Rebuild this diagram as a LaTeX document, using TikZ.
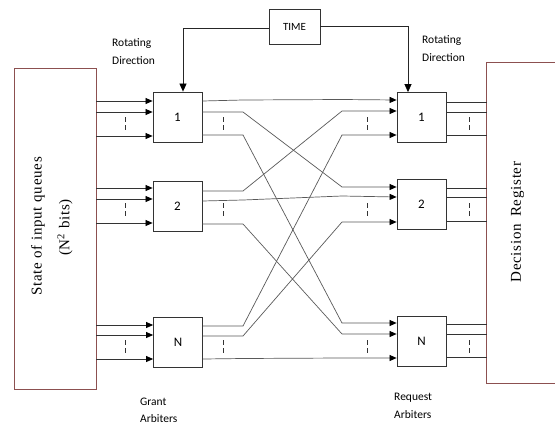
\documentclass[tikz,border=0pt]{standalone}
\usepackage{fontspec}
\setmainfont{Carlito}
\newfontfamily\regserif{Liberation Serif}[LetterSpace=5]
\usetikzlibrary{arrows.meta}
\begin{document}
\begin{tikzpicture}[x=1pt,y=-1pt,
 arb/.style={draw=black!80,line width=0.8pt,minimum width=49pt,minimum height=50pt,inner sep=0pt,font=\fontsize{13}{15}\selectfont},
 regline/.style={draw={rgb,255:red,140;green,80;blue,80},line width=0.7pt},
 wire/.style={draw=black!80,line width=0.7pt},
 inwire/.style={wire,-{Triangle[length=7pt,width=6pt,color=black]}},
 cross/.style={draw=black!65,line width=0.7pt,-{Triangle[length=7pt,width=6pt,color=black]}},
 timearrow/.style={draw=black!85,line width=0.7pt,-{Triangle[length=8pt,width=7pt,color=black]}},
 dots/.style={draw=black!80,line width=0.6pt,dash pattern=on 5pt off 3pt},
 lbl/.style={align=left,font=\fontsize{11.5}{18}\selectfont,inner sep=0pt},
 vtext/.style={rotate=90,inner sep=0pt,font=\regserif\fontsize{15}{17}\selectfont}
]
\useasboundingbox (0,0) rectangle (555,426);

% register boxes
\node[regline,minimum width=82pt,minimum height=321pt,inner sep=0pt] (inq) at (55,228.5) {};
\node[inner sep=0pt,minimum width=69pt,minimum height=320pt] (dec) at (521.5,223) {};
\draw[regline] (dec.north east) -- (dec.north west) -- (dec.south west) -- (dec.south east);
\node[vtext] (inqa) at (38,226.5) {State of input queues};
\node[vtext] (inqb) at (65,227.5) {(N\textsuperscript{2} bits)};
\node[vtext] (dect) at (517.5,222) {Decision\, Register};

% arbiters
\node[arb] (G1) at (177.5,117) {1};
\node[arb] (G2) at (177.5,206.5) {2};
\node[arb] (GN) at (178,342.5) {N};
\node[arb] (R1) at (421.5,117.5) {1};
\node[arb] (R2) at (421.5,204.5) {2};
\node[arb] (RN) at (421.5,341.5) {N};

% TIME
\node[draw=black!80,line width=0.8pt,minimum width=51pt,minimum height=35pt,inner sep=0pt,font=\fontsize{11}{12}\selectfont] (T) at (294.5,26.5) {TIME};
\draw[timearrow] (T.west |- 0,28) -| ([xshift=5.5pt]G1.north);
\draw[timearrow] (T.east |- 0,26) -| ([xshift=-13.5pt]R1.north);

% labels
\node[lbl,anchor=west] (rl) at (112,51.5) {Rotating\\Direction};
\node[lbl,anchor=west] (rr) at (422,49) {Rotating\\Direction};
\node[lbl,anchor=west,font=\fontsize{11.5}{17}\selectfont] (ga) at (140,410.5) {Grant\\Arbiters};
\node[lbl,anchor=west] (ra) at (394,406) {Request\\Arbiters};

% inputs to grant arbiters
\foreach \y in {101,112,136} \draw[inwire] (inq.east |- 0,\y) -- (G1.west |- 0,\y);
\foreach \y in {188,199,223} \draw[inwire] (inq.east |- 0,\y) -- (G2.west |- 0,\y);
\foreach \y in {325,335,359} \draw[inwire] (inq.east |- 0,\y) -- (GN.west |- 0,\y);

% crossbar
\draw[cross] (G1.east |- 0,101) -- (243,100) -- (342,99.5) -- (R1.west |- 0,100);
\draw[cross] (G1.east |- 0,112) -- (243,112) -- (342,187) -- (R2.west |- 0,187);
\draw[cross] (G1.east |- 0,135) -- (243,135) -- (342,323) -- (RN.west |- 0,323);
\draw[cross] (G2.east |- 0,191) -- (243,191) -- (342,111) -- (R1.west |- 0,111);
\draw[cross] (G2.east |- 0,201) -- (243,200) -- (342,196) -- (R2.west |- 0,197);
\draw[cross] (G2.east |- 0,224) -- (243,224) -- (342,334) -- (RN.west |- 0,334);
\draw[cross] (GN.east |- 0,326) -- (243,326) -- (342,135) -- (R1.west |- 0,135);
\draw[cross] (GN.east |- 0,336) -- (243,336) -- (342,222) -- (R2.west |- 0,222);
\draw[cross] (GN.east |- 0,359) -- (243,358.5) -- (342,358) -- (RN.west |- 0,358);

% outputs to decision register
\foreach \y in {102,112,135} \draw[wire] (R1.east |- 0,\y) -- (dec.west |- 0,\y);
\foreach \y in {188,197,221} \draw[wire] (R2.east |- 0,\y) -- (dec.west |- 0,\y);
\foreach \y in {324,334,357} \draw[wire] (RN.east |- 0,\y) -- (dec.west |- 0,\y);

% dashed marks
\foreach \x in {125,223,367,469} {
  \draw[dots] (\x,117) -- (\x,130);
  \draw[dots] (\x,203) -- (\x,216);
  \draw[dots] (\x,340) -- (\x,353);
}
\end{tikzpicture}
\end{document}
